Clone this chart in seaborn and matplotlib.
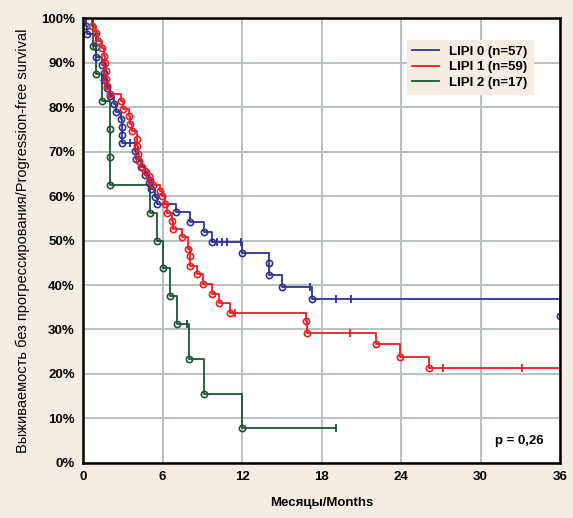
import numpy as np
import pandas as pd
import matplotlib
matplotlib.use("Agg")
import matplotlib.pyplot as plt
import seaborn as sns

# Kaplan-Meier curves (months, survival %)
lipi0_t = [0.25, 0.3, 0.95, 1.0, 1.45, 1.55, 1.6, 1.8, 2.05, 2.3, 2.5, 2.9, 2.92, 2.94, 2.96,
           3.9, 4.0, 4.4, 4.7, 4.95, 5.1, 5.4, 5.6, 7.0, 8.1, 9.1, 9.7, 12.0, 14.0, 14.05, 15.0, 17.25, 36.0]
lipi0_s = [98.2, 96.5, 93.6, 91.2, 89.5, 87.7, 86.0, 84.2, 82.5, 80.7, 78.9, 77.2, 75.4, 73.7, 71.9,
           70.1, 68.3, 66.6, 64.8, 63.0, 61.5, 59.8, 58.2, 56.3, 54.1, 51.8, 49.7, 47.2, 44.9, 42.2, 39.6, 36.8, 33.0]
lipi0_cens = [3.55, 10.1, 10.5, 10.9, 11.9, 17.1, 19.1, 20.2]

lipi1_t = [0.65, 1.0, 1.15, 1.4, 1.55, 1.65, 1.7, 1.75, 1.8, 2.05, 2.9, 3.05, 3.5, 3.55, 3.7,
           4.05, 4.1, 4.15, 4.2, 4.45, 4.7, 4.95, 5.06, 5.31, 5.8, 5.94, 6.19, 6.32, 6.7, 6.82,
           7.45, 7.95, 8.08, 8.1, 8.6, 9.08, 9.71, 10.29, 11.1, 16.8, 16.9, 22.1, 23.93, 26.14]
lipi1_s = [98.3, 96.6, 94.9, 93.2, 91.5, 89.8, 88.1, 86.4, 84.7, 83.0, 81.3, 79.6, 77.9, 76.2, 74.6,
           72.9, 71.2, 69.5, 67.8, 66.6, 65.6, 64.6, 63.6, 62.5, 61.2, 60.1, 58.2, 56.1, 54.4, 52.5,
           50.7, 48.2, 46.5, 44.3, 42.5, 40.2, 38.0, 36.0, 33.8, 31.8, 29.3, 26.7, 23.9, 21.4]
lipi1_cens = [11.45, 20.15, 27.2, 33.1]

lipi2_t = [0.75, 0.95, 1.45, 2.04, 2.05, 2.06, 5.05, 5.6, 6.06, 6.6, 7.1, 8.02, 9.13, 11.98]
lipi2_s = [93.75, 87.5, 81.25, 75.0, 68.75, 62.5, 56.25, 50.0, 43.75, 37.5, 31.25, 23.4, 15.6, 7.8]
lipi2_cens = [7.85, 19.1]

labels = ["LIPI 0 (n=57)", "LIPI 1 (n=59)", "LIPI 2 (n=17)"]
colors = ["#2e3192", "#ed1c24", "#1a5632"]
ends = [36.0, 36.0, 19.1]

groups = [(lipi0_t, lipi0_s, lipi0_cens), (lipi1_t, lipi1_s, lipi1_cens), (lipi2_t, lipi2_s, lipi2_cens)]

# long table of the step curves
rows = []
for lab, (t, s, c), end in zip(labels, groups, ends):
    tt = [0.0] + list(t) + [end]
    ss = [100.0] + list(s) + [s[-1]]
    for a, b in zip(tt, ss):
        rows.append({"month": a, "surv": b, "group": lab})
df = pd.DataFrame(rows)

bg = "#f6ede0"
plt.rcParams["font.family"] = ["Liberation Sans", "DejaVu Sans"]
fig = plt.figure(figsize=(5.73, 5.18), dpi=100, facecolor=bg)
ax = fig.add_axes([0.1449, 0.1062, 0.8325, 0.859])
ax.set_facecolor("white")

sns.lineplot(data=df, x="month", y="surv", hue="group", palette=dict(zip(labels, colors)),
             estimator=None, sort=False, drawstyle="steps-post", linewidth=1.3, ax=ax)

for lab, (t, s, c), col in zip(labels, groups, colors):
    ax.plot(t, s, linestyle="none", marker="o", markersize=4.5, markerfacecolor="none",
            markeredgecolor=col, markeredgewidth=1.2)
    st = np.array([100.0] + list(s))
    idx = np.searchsorted(np.array(t), np.array(c), side="right")
    ax.plot(c, st[idx], linestyle="none", marker="|", markersize=6, color=col, markeredgewidth=1.3)

ax.set_xlim(0, 36)
ax.set_ylim(0, 100)
ax.set_xticks(np.arange(0, 37, 6))
ax.set_yticks(np.arange(0, 101, 10))
ax.set_yticklabels([f"{v}%" for v in range(0, 101, 10)])
ax.grid(True, color="#b9c0c3", linewidth=1.4)
ax.set_axisbelow(True)
ax.tick_params(length=0, labelsize=9.5, pad=6)
for lbl in ax.get_xticklabels() + ax.get_yticklabels():
    lbl.set_fontweight("bold")
for sp in ax.spines.values():
    sp.set_color("black")
    sp.set_linewidth(1.8)

ax.set_xlabel("Месяцы/Months", fontsize=9.5, fontweight="bold", labelpad=10)
ax.set_ylabel("Выживаемость без прогрессирования/Progression-free survival", fontsize=10.5, labelpad=8)

leg = ax.legend(loc="upper left", bbox_to_anchor=(0.665, 0.965), frameon=True, fancybox=False,
                facecolor=bg, edgecolor=bg, framealpha=1, handlelength=2.0,
                borderpad=0.4, labelspacing=0.25, prop={"weight": "bold", "size": 9.5})
for h in leg.get_lines():
    h.set_linewidth(1.3)

ax.text(0.965, 0.035, "p = 0,26", transform=ax.transAxes, ha="right", va="bottom",
        fontsize=9.5, fontweight="bold")

fig.savefig("out.png", dpi=100, facecolor=bg)
